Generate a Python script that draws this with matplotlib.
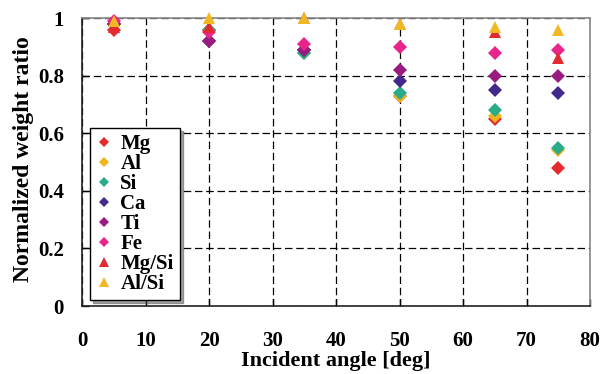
import matplotlib
matplotlib.use("Agg")
import matplotlib.pyplot as plt
import matplotlib.ticker as mticker

# --- data ---
ANGLES = [5, 20, 35, 50, 65, 75]
MG = [0.96, 0.96, 0.89, 0.73, 0.65, 0.48]
AL = [0.98, 0.96, 0.88, 0.73, 0.66, 0.54]
SI = [0.98, 0.96, 0.88, 0.74, 0.68, 0.55]
CA = [0.98, 0.92, 0.89, 0.78, 0.75, 0.74]
TI = [0.98, 0.92, 0.89, 0.82, 0.80, 0.80]
FE = [0.99, 0.95, 0.91, 0.90, 0.88, 0.89]
MG_SI = [0.97, 0.97, 1.00, 0.98, 0.95, 0.86]
AL_SI = [0.99, 1.00, 1.00, 0.98, 0.97, 0.96]

SERIES = [
    ("Mg", MG, "#e32b2f", "D"),
    ("Al", AL, "#f0b41c", "D"),
    ("Si", SI, "#2aab8a", "D"),
    ("Ca", CA, "#432a8a", "D"),
    ("Ti", TI, "#981c80", "D"),
    ("Fe", FE, "#e8258a", "D"),
    ("Mg/Si", MG_SI, "#e32b2f", "^"),
    ("Al/Si", AL_SI, "#f2b824", "^"),
]


def fmt_tick(v, pos):
    v = round(v, 6)
    if v == 0:
        return "0"
    if v == 1:
        return "1"
    return f"{v:.1f}"


plt.rcParams["font.family"] = ["Liberation Serif", "DejaVu Serif"]
plt.rcParams["font.weight"] = "bold"

fig = plt.figure(figsize=(6.08, 3.74), dpi=100, facecolor="white")
ax = fig.add_axes([82 / 608, 1 - 306 / 374, 508 / 608, 288 / 374])

for name, vals, color, marker in SERIES:
    size = 7 if marker == "D" else 8.5
    ax.plot(ANGLES, vals, linestyle="none", marker=marker, markersize=size,
            color=color, markeredgewidth=0, label=name, zorder=3, clip_on=False)

ax.set_xlim(0, 80)
ax.set_ylim(0, 1)
ax.xaxis.set_major_locator(mticker.MultipleLocator(10))
ax.yaxis.set_major_locator(mticker.MultipleLocator(0.2))
ax.yaxis.set_major_formatter(mticker.FuncFormatter(fmt_tick))
ax.grid(True, color="black", linestyle=(0, (6, 3)), linewidth=0.9)
ax.set_axisbelow(True)

ax.tick_params(axis="both", direction="in", length=5, width=1, labelsize=15, color="black")
ax.tick_params(axis="x", pad=18)
ax.tick_params(axis="y", pad=13)
for lab in ax.get_xticklabels() + ax.get_yticklabels():
    lab.set_fontweight("bold")

ax.spines["left"].set_color("#222222")
ax.spines["bottom"].set_color("#222222")
ax.spines["top"].set_color("#888888")
ax.spines["right"].set_color("#888888")
for s in ax.spines.values():
    s.set_linewidth(1.2)

ax.set_xlabel("Incident angle [deg]", fontsize=16, fontweight="bold", labelpad=0)
ax.set_ylabel("Normalized weight ratio", fontsize=17, fontweight="bold")
ax.yaxis.set_label_coords(-0.095, 0.51)

leg = ax.legend(loc="lower left", bbox_to_anchor=(0.016, 0.02), borderaxespad=0,
                frameon=True, fancybox=False, shadow=True, edgecolor="black",
                framealpha=1, fontsize=15, handlelength=0.7, handletextpad=0.45,
                labelspacing=0.0, borderpad=0.3, markerscale=0.8)
leg.get_frame().set_linewidth(1.0)
for t in leg.get_texts():
    t.set_fontweight("bold")

fig.savefig("out.png", dpi=100, facecolor="white")
